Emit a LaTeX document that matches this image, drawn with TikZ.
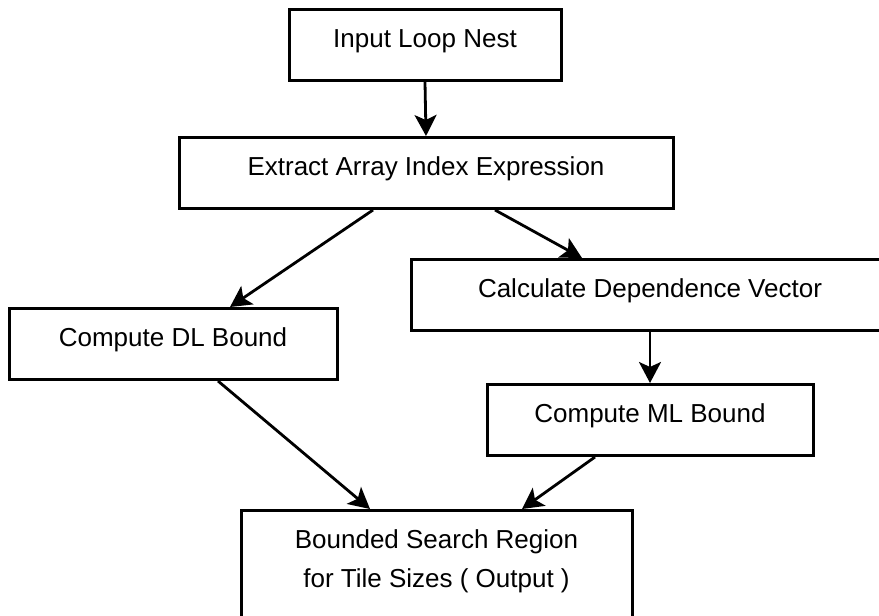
\documentclass[tikz,border=0pt]{standalone}
\usepackage{fontspec}
\setmainfont{Liberation Sans}
\usepackage{tikz}
\usetikzlibrary{arrows.meta,calc,positioning}

\begin{document}
\begin{tikzpicture}[x=0.5pt,y=0.5pt,
  stage/.style={draw,line width=1.5pt,anchor=north,inner xsep=0pt,inner ysep=0pt,
    text height=19pt,text depth=16.5pt,align=center,
    font=\fontsize{13}{19.5}\selectfont},
  flow/.style={line width=1.4pt,-{Stealth[length=10.5pt,width=11pt,inset=2.5pt]}}]
  \useasboundingbox (0,0) rectangle (879,616);
  \clip (0,0) rectangle (879,616);

  \node[stage,minimum width=136pt] (input) at (425,608) {Input Loop Nest};
  \node[stage,minimum width=247pt] (extract) at (426,480) {Extract Array Index Expression};
  \node[stage,minimum width=164pt] (dl) at (173,309) {Compute DL Bound};
  \node[stage,minimum width=239pt] (dep) at (650,358) {Calculate Dependence Vector};
  \node[stage,minimum width=163pt] (ml) at (650,233) {Compute ML Bound};
  \node[stage,minimum width=195.5pt,text height=38.5pt] (out) at (436.5,107)
    {Bounded Search Region\\for Tile Sizes ( Output )};

  \draw[flow] (input.south) -- (extract.north);
  \draw[flow] ($(extract.south)+(-53,0)$) -- ($(dl.north)+(57,0)$);
  \draw[flow] ($(extract.south)+(69,0)$) -- ($(dep.north)+(-68,0)$);
  \draw[flow] (dep.south) -- (ml.north);
  \draw[flow] ($(dl.south)+(45,0)$) -- ($(out.north)+(-66.5,0)$);
  \draw[flow] ($(ml.south)+(-55,0)$) -- ($(out.north)+(85.5,0)$);
\end{tikzpicture}
\end{document}
